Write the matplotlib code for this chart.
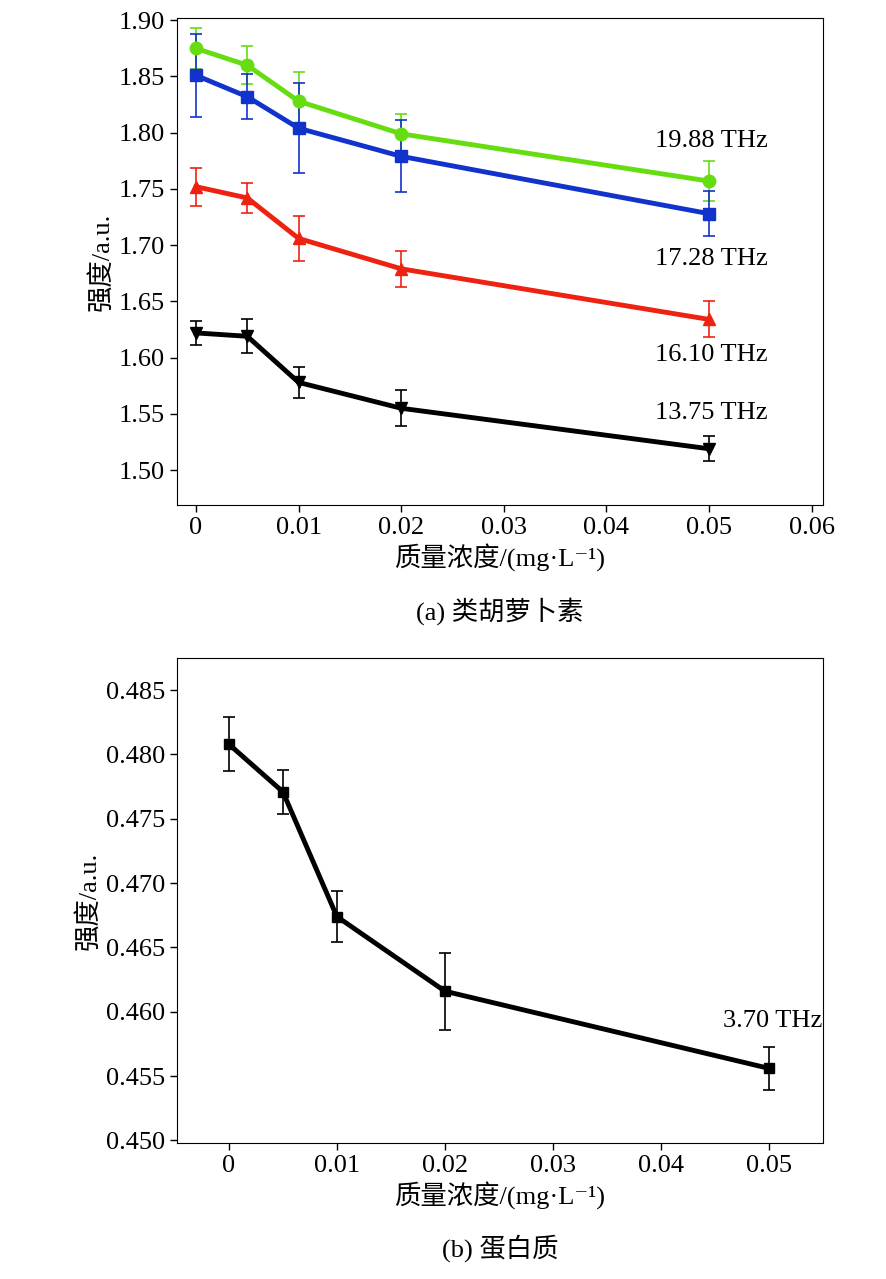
import numpy as np
import matplotlib
matplotlib.use('Agg')
import matplotlib.pyplot as plt

plt.rcParams['font.family'] = ['Liberation Serif', 'Noto Sans CJK SC', 'DejaVu Serif']
plt.rcParams['font.size'] = 17

conc = [0, 0.005, 0.01, 0.02, 0.05]
g_y = [1.875, 1.860, 1.828, 1.799, 1.757]
g_e = [0.018, 0.017, 0.026, 0.018, 0.018]
b_y = [1.851, 1.832, 1.804, 1.779, 1.728]
b_e = [0.037, 0.020, 0.040, 0.032, 0.020]
r_y = [1.752, 1.742, 1.706, 1.679, 1.634]
r_e = [0.017, 0.013, 0.020, 0.016, 0.016]
k_y = [1.622, 1.619, 1.578, 1.555, 1.519]
k_e = [0.011, 0.015, 0.014, 0.016, 0.011]
p_y = [0.4808, 0.4771, 0.4674, 0.4616, 0.4556]
p_e = [0.0021, 0.0017, 0.0020, 0.0030, 0.0017]

fig = plt.figure(figsize=(8.86, 12.79), dpi=100)
ax1 = fig.add_axes([177/886, 1-505/1279, 646/886, 487/1279])
ax2 = fig.add_axes([177/886, 1-1143/1279, 646/886, 485/1279])

series = [(g_y, g_e, '#66dd11', 'o', '19.88 THz', 1.793),
          (b_y, b_e, '#1133cc', 's', '17.28 THz', 1.688),
          (r_y, r_e, '#ee2211', '^', '16.10 THz', 1.602),
          (k_y, k_e, 'black', 'v', '13.75 THz', 1.551)]
for y, e, c, m, lab, ty in series:
    ax1.errorbar(conc, y, yerr=e, color=c, marker=m, ms=9, lw=3.5,
                 capsize=4, elinewidth=1.2, capthick=1.2)
    ax1.text(0.0502, ty, lab, ha='center', va='center', fontsize=19)
ax1.set_xlim(-0.00185, 0.0611)
ax1.set_ylim(1.469, 1.902)
ax1.set_xticks([0, 0.01, 0.02, 0.03, 0.04, 0.05, 0.06])
ax1.set_xticklabels(['0', '0.01', '0.02', '0.03', '0.04', '0.05', '0.06'])
ax1.set_yticks(np.arange(1.50, 1.91, 0.05))
ax1.set_yticklabels(['%.2f' % v for v in np.arange(1.50, 1.91, 0.05)])

ax2.errorbar(conc, p_y, yerr=p_e, color='black', marker='s', ms=7, lw=3.5,
             capsize=4, elinewidth=1.2, capthick=1.2)
ax2.text(0.0503, 0.4593, '3.70 THz', ha='center', va='center', fontsize=19)
ax2.set_xlim(-0.0048, 0.055)
ax2.set_ylim(0.4498, 0.4875)
ax2.set_xticks([0, 0.01, 0.02, 0.03, 0.04, 0.05])
ax2.set_xticklabels(['0', '0.01', '0.02', '0.03', '0.04', '0.05'])
ax2.set_yticks(np.arange(0.450, 0.4851, 0.005))
ax2.set_yticklabels(['%.3f' % v for v in np.arange(0.450, 0.4851, 0.005)])

for ax, cap in [(ax1, '(a) 类胡萝卜素'), (ax2, '(b) 蛋白质')]:
    ax.tick_params(labelsize=19, width=1, length=5)
    ax.set_xlabel('质量浓度/(mg·L\u207b\u00b9)', fontsize=19, labelpad=4)
    ax.set_ylabel('强度/a.u.', fontsize=19)
    ax.text(0.5, -0.235, cap, transform=ax.transAxes, ha='center', fontsize=19)

fig.savefig('out.png', dpi=100)
